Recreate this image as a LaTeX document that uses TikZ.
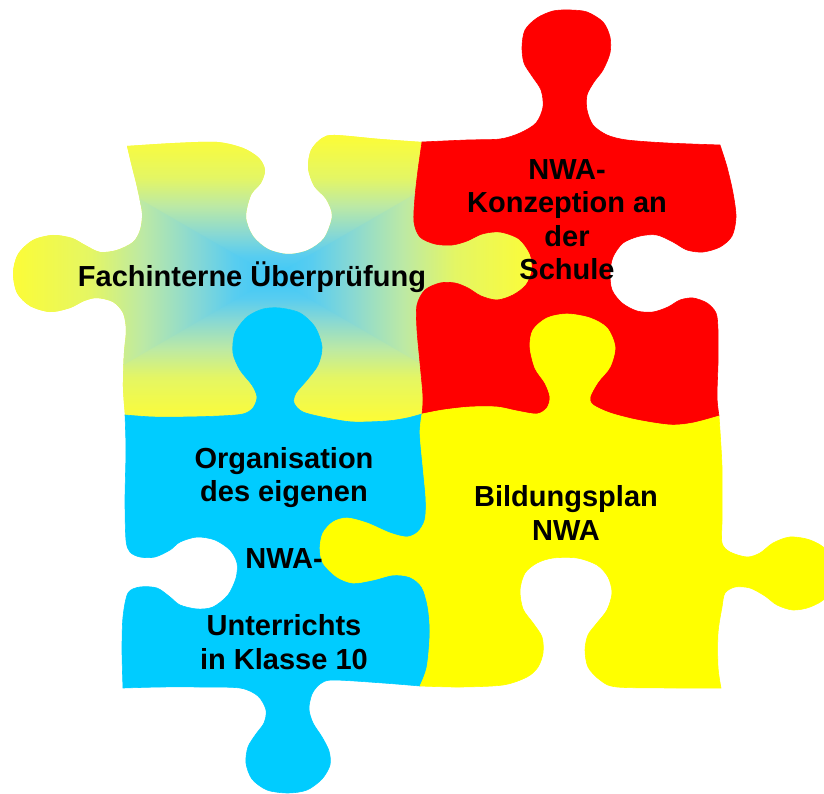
\documentclass[tikz,border=0pt]{standalone}
\usepackage{fontspec}
\setmainfont{Liberation Sans}
\definecolor{gradedge}{RGB}{252,252,55}
\definecolor{gradA}{RGB}{228,246,100}
\definecolor{gradB}{RGB}{188,233,165}
\definecolor{gradC}{RGB}{135,216,212}
\definecolor{gradD}{RGB}{88,205,240}
\definecolor{gradmid}{RGB}{60,200,248}
\definecolor{piecered}{RGB}{255,0,0}
\definecolor{pieceblue}{RGB}{0,204,255}
\definecolor{pieceyellow}{RGB}{255,255,0}
\pgfdeclareverticalshading{gradfromtop}{100bp}{color(0bp)=(gradmid); color(25bp)=(gradmid); color(32.5bp)=(gradD); color(40bp)=(gradC); color(50bp)=(gradB); color(60bp)=(gradA); color(75bp)=(gradedge); color(100bp)=(gradedge)}
\begin{document}
\begin{tikzpicture}[x=1pt,y=-1pt,
  piecetext/.style={font=\bfseries\fontsize{29}{33.5}\selectfont, align=center, inner sep=0pt, text=black},
  redpiece/.style={fill=piecered, draw=piecered, line width=0.6pt},
  bluepiece/.style={fill=pieceblue, draw=pieceblue, line width=0.6pt},
  yellowpiece/.style={fill=pieceyellow, draw=pieceyellow, line width=0.6pt}]
\useasboundingbox (0,0) rectangle (824,794);

% ---------- gradient piece (top left) ----------
\begin{scope}
\clip plot[smooth] coordinates {(127,146) (175,143) (217,142) (243,148) (259,158) (265,170) (261,183) (251,195) (246,217) (253,236) (268,249) (288,254) (308,250) (324,238) (332,216) (326,199) (314,186) (308,168) (311,150) (322,138) (335,135) (380,139) (422,142)}
 -- plot[smooth] coordinates {(422,142) (418,170) (415,197) (414,222) (420,237) (435,244) (452,245) (467,241) (482,234) (500,232) (519,239) (530,254) (532,270) (526,285) (513,295) (497,300) (481,296) (468,288) (455,283) (440,283) (425,290) (417,305) (417,330) (420,363) (423,397) (422,414)}
 -- plot[smooth] coordinates {(422,414) (407,418) (387,421) (353,422) (327,418) (303,412) (294,403) (296,393) (307,380) (318,365) (322,347) (315,327) (300,313) (280,308) (263,309) (247,317) (235,333) (233,353) (240,370) (252,385) (257,397) (253,408) (243,414) (220,416) (187,417) (153,417) (125,415)}
 -- plot[smooth] coordinates {(125,415) (123,387) (124,353) (126,330) (123,313) (113,302) (97,298) (84,301) (70,308) (50,312) (30,306) (17,293) (13,273) (18,254) (33,240) (53,235) (72,238) (85,245) (100,252) (117,250) (133,242) (140,230) (142,213) (137,187) (132,167) (127,146)}
 -- cycle;
\fill[gradedge] (0,120) rectangle (540,430);
\shade[shading=gradfromtop] (12,135) -- (534,135) -- (273,277) -- cycle;
\shade[shading=gradfromtop, shading angle=180] (12,420) -- (534,420) -- (273,277) -- cycle;
\shade[shading=gradfromtop, shading angle=90] (12,125) -- (12,430) -- (274,277) -- cycle;
\shade[shading=gradfromtop, shading angle=-90] (534,125) -- (534,430) -- (272,277) -- cycle;
\end{scope}

% ---------- red piece (top right) ----------
\path[redpiece] plot[smooth] coordinates {(422,142) (467,140) (500,139) (520,133) (536,123) (543,107) (541,90) (532,76) (524,63) (522,47) (525,30) (537,18) (553,11) (570,10) (587,12) (603,22) (610,37) (610,53) (603,70) (594,82) (587,95) (587,110) (593,125) (607,135) (627,140) (667,143) (720,145)}
 -- plot[smooth] coordinates {(720,145) (727,167) (733,193) (736,217) (732,236) (720,247) (703,252) (687,250) (673,242) (657,235) (640,236) (623,243) (613,257) (610,273) (612,290) (622,303) (637,311) (653,312) (668,307) (680,300) (693,298) (707,303) (716,313) (718,330) (718,363) (717,397) (719,416)}
 -- plot[smooth] coordinates {(719,416) (693,423) (670,425) (637,420) (610,413) (593,405) (590,397) (598,382) (610,367) (615,347) (607,328) (590,318) (567,314) (547,318) (533,330) (530,347) (535,368) (545,383) (550,397) (547,408) (537,414) (517,411) (497,407) (470,407) (443,410) (422,414)}
 -- plot[smooth] coordinates {(422,414) (423,397) (420,363) (417,330) (417,305) (425,290) (440,283) (455,283) (468,288) (481,296) (497,300) (513,295) (526,285) (532,270) (530,254) (519,239) (500,232) (482,234) (467,241) (452,245) (435,244) (420,237) (414,222) (415,197) (418,170) (422,142)}
 -- cycle;

% ---------- blue piece (bottom left) ----------
\path[bluepiece] plot[smooth] coordinates {(125,415) (153,417) (187,417) (220,416) (243,414) (253,408) (257,397) (252,385) (240,370) (233,353) (235,333) (247,317) (263,309) (280,308) (300,313) (315,327) (322,347) (318,365) (307,380) (296,393) (294,403) (303,412) (327,418) (353,422) (387,421) (407,418) (422,414)}
 -- plot[smooth] coordinates {(422,414) (420,433) (423,467) (426,500) (425,520) (418,532) (407,537) (390,533) (367,523) (347,518) (333,522) (323,533) (320,548) (323,563) (337,577) (353,583) (373,580) (393,575) (410,577) (422,587) (428,607) (430,633) (427,667) (420,686)}
 -- plot[smooth] coordinates {(420,686) (383,683) (333,680) (320,684) (312,694) (309,709) (313,723) (322,737) (329,751) (330,765) (322,779) (307,790) (288,793) (267,790) (252,779) (246,763) (248,747) (256,734) (264,723) (266,710) (258,696) (240,688) (200,687) (160,687) (123,688)}
 -- plot[smooth] coordinates {(123,688) (122,650) (123,617) (128,593) (140,587) (157,588) (170,597) (180,605) (197,609) (213,607) (228,595) (236,578) (237,563) (230,550) (215,540) (197,537) (180,542) (170,550) (155,557) (140,557) (130,552) (126,540) (125,500) (126,450) (125,415)}
 -- cycle;

% ---------- yellow piece (bottom right) ----------
\path[yellowpiece] plot[smooth] coordinates {(422,414) (443,410) (470,407) (497,407) (517,411) (537,414) (547,408) (550,397) (545,383) (535,368) (530,347) (533,330) (547,318) (567,314) (590,318) (607,328) (615,347) (610,367) (598,382) (590,397) (593,405) (610,413) (637,420) (670,425) (693,423) (719,416)}
 -- plot[smooth] coordinates {(719,416) (722,467) (722,520) (722,543) (730,552) (747,557) (760,553) (773,543) (790,537) (810,540) (826,550) (832,573) (826,597) (810,607) (793,610) (777,605) (765,596) (750,588) (735,587) (725,593) (722,607) (718,633) (718,667) (721,688)}
 -- plot[smooth] coordinates {(721,688) (677,688) (617,687) (600,680) (588,667) (585,650) (588,635) (597,623) (607,610) (612,593) (608,577) (597,565) (577,558) (553,558) (537,563) (525,573) (520,590) (523,609) (533,623) (542,637) (543,653) (538,667) (527,677) (503,685) (460,687) (420,686)}
 -- plot[smooth] coordinates {(420,686) (427,667) (430,633) (428,607) (422,587) (410,577) (393,575) (373,580) (353,583) (337,577) (323,563) (320,548) (323,533) (333,522) (347,518) (367,523) (390,533) (407,537) (418,532) (425,520) (426,500) (423,467) (420,433) (422,414)}
 -- cycle;

% ---------- texts ----------
\node[piecetext, anchor=base] (fach) at (252,287) {Fachinterne Überprüfung};
\node[piecetext] (konz) at (567,219.8) {NWA-\\Konzeption an\\der\\Schule};
\node[piecetext] (orga) at (284,558.5) {Organisation\\des eigenen\\[33.5pt]NWA-\\[33.5pt]Unterrichts\\in Klasse 10};
\node[piecetext] (bild) at (566,513.1) {Bildungsplan\\NWA};
\end{tikzpicture}
\end{document}
